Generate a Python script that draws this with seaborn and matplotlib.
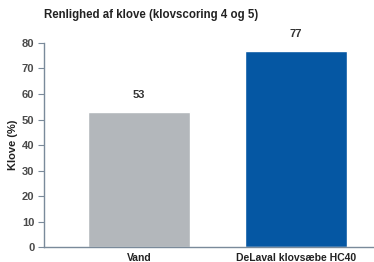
import matplotlib
matplotlib.use("Agg")
import matplotlib.pyplot as plt
import seaborn as sns
import pandas as pd

categories = ["Vand", "DeLaval klovsæbe HC40"]
values = [53, 77]
bar_colors = ["#b3b7bb", "#0557a3"]
y_ticks = [0, 10, 20, 30, 40, 50, 60, 70, 80]

sns.set_style("white")
plt.rcParams["font.family"] = ["Liberation Sans", "DejaVu Sans"]
plt.rcParams["font.weight"] = "bold"

df = pd.DataFrame({"kategori": categories, "klove": values})

fig = plt.figure(figsize=(3.74, 2.62), dpi=100)
ax = fig.add_axes([0.118, 0.057, 0.882, 0.779])

sns.barplot(data=df, x="kategori", y="klove", hue="kategori",
            palette=bar_colors, saturation=1, width=0.65, legend=False, ax=ax)

for i, v in enumerate(values):
    ax.text(i, v + 4.5, str(v), ha="center", va="bottom", fontsize=8,
            fontweight="bold", color="#333333")

ax.set_ylim(0, 80)
ax.set_xlim(-0.605, 1.497)
ax.set_yticks(y_ticks)
ax.set_yticklabels([str(t) for t in y_ticks], fontsize=8, fontweight="bold",
                   color="#4a4a4a")
ax.set_xticks(range(len(categories)))
ax.set_xticklabels(categories, fontsize=7.5, fontweight="bold", color="#222222")
ax.tick_params(axis="y", left=True, length=4, width=0.8, color="#7a8a9a", pad=3)
ax.tick_params(axis="x", bottom=False, pad=1)
ax.set_ylabel("Klove (%)", fontsize=8, fontweight="bold", color="#222222", labelpad=3)
ax.set_xlabel("")

for s in ["top", "right"]:
    ax.spines[s].set_visible(False)
for s in ["left", "bottom"]:
    ax.spines[s].set_color("#7a8a9a")
    ax.spines[s].set_linewidth(1.0)

fig.text(0.118, 0.93, "Renlighed af klove (klovscoring 4 og 5)", fontsize=8.3,
         fontweight="bold", color="#222222", ha="left")

fig.savefig("out.png", dpi=100)
